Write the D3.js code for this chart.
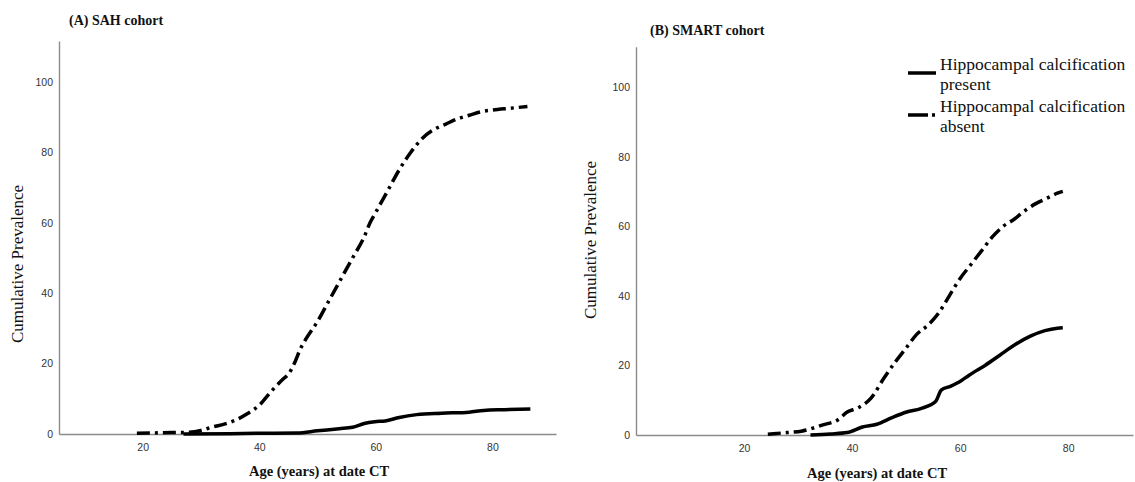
<!DOCTYPE html>
<html>
<head>
<meta charset="utf-8">
<script src="https://cdn.jsdelivr.net/npm/d3@7"></script>
<style>
  body { margin: 0; background: #fff; }
  svg { display: block; }
</style>
</head>
<body>
<div id="chart"></div>
<script>
// (A) SAH cohort
const sahAbsentAge = [19, 22, 25, 28, 30, 32, 34, 36, 38, 40, 42, 44, 45, 46, 47, 48, 50, 52, 54, 56, 58, 59, 60, 62, 64, 66, 68, 70, 72, 74, 76, 78, 80, 83, 86];
const sahAbsentVal = [0.2, 0.3, 0.4, 0.5, 1.0, 2.0, 2.8, 4.0, 5.8, 8.2, 12, 15.5, 17, 20, 24, 27, 32, 38, 44, 50, 56, 60, 63, 69, 75, 80, 84, 86.5, 88, 89.5, 90.5, 91.5, 92, 92.5, 93];
const sahPresentAge = [27, 35, 40, 46.5, 50, 53.7, 56, 58, 59.8, 61.6, 64, 67, 71.3, 76, 78.5, 82, 86.5];
const sahPresentVal = [0, 0.1, 0.2, 0.3, 0.9, 1.5, 1.9, 3.0, 3.5, 3.7, 4.7, 5.5, 5.9, 6.2, 6.7, 6.9, 7.1];

// (B) SMART cohort
const smartAbsentAge = [24.4, 27.9, 30.6, 34.6, 37.4, 39.1, 41.1, 43.5, 46, 48, 50, 52, 54, 56, 58, 60, 62, 64, 66, 68, 70, 72, 74, 76, 78, 79];
const smartAbsentVal = [0.2, 0.7, 1.1, 2.9, 4.4, 6.6, 7.8, 10.6, 16.6, 21, 25, 29, 31.5, 35, 40, 45, 49, 53, 57, 60, 62, 64.5, 66.5, 68, 69.5, 70];
const smartPresentAge = [32.3, 36, 39.1, 41.9, 44.6, 47.4, 50.1, 52.7, 55.5, 56.5, 58.2, 60.2, 61.6, 63, 64.6, 67.4, 70.2, 73, 75.7, 78, 79];
const smartPresentVal = [0, 0.3, 0.7, 2.3, 3.1, 5.0, 6.6, 7.6, 9.7, 12.9, 14, 15.6, 17.1, 18.5, 20, 23, 26, 28.4, 30, 30.7, 30.8];

const yTicks = [0, 20, 40, 60, 80, 100];
const xTicks = [20, 40, 60, 80];
const seriesNames = ["Hippocampal calcification present", "Hippocampal calcification absent"];

const width = 1135, height = 482;
const serif = "'Liberation Serif', 'Times New Roman', serif";
const sans = "'Liberation Sans', Arial, sans-serif";
const axisColor = "#8c8c8c";
const dashDot = "13,5,3,5";

const svg = d3.select("#chart").append("svg")
    .attr("width", width)
    .attr("height", height)
    .attr("viewBox", `0 0 ${width} ${height}`);

const panels = [
    {
        title: "(A) SAH cohort", titleX: 69, titleY: 25,
        xDomain: [5.64, 90.9], xRange: [59, 556],
        yRange: [434, 41],
        yLabelX: 17, yLabelY: 264,
        xLabelX: 319, xLabelY: 476,
        present: [sahPresentAge, sahPresentVal],
        absent: [sahAbsentAge, sahAbsentVal]
    },
    {
        title: "(B) SMART cohort", titleX: 650, titleY: 35,
        xDomain: [0, 92], xRange: [636, 1133],
        yRange: [435, 46.7],
        yLabelX: 590, yLabelY: 240,
        xLabelX: 877, xLabelY: 478,
        present: [smartPresentAge, smartPresentVal],
        absent: [smartAbsentAge, smartAbsentVal]
    }
];

panels.forEach(p => {
    const x = d3.scaleLinear().domain(p.xDomain).range(p.xRange);
    const y = d3.scaleLinear().domain([0, 111.6]).range(p.yRange);
    const g = svg.append("g");

    // Título
    g.append("text")
        .attr("x", p.titleX).attr("y", p.titleY)
        .attr("font-family", serif).attr("font-weight", "bold")
        .attr("font-size", 14).attr("fill", "#111")
        .text(p.title);

    // Eixos
    const xAxis = g.append("g")
        .attr("transform", `translate(0,${p.yRange[0]})`)
        .call(d3.axisBottom(x).tickValues(xTicks).tickSize(0).tickPadding(10));
    const yAxis = g.append("g")
        .attr("transform", `translate(${p.xRange[0]},0)`)
        .call(d3.axisLeft(y).tickValues(yTicks).tickSize(0).tickPadding(6));

    [xAxis, yAxis].forEach(a => {
        a.select(".domain").attr("stroke", axisColor).attr("stroke-width", 1.4);
        a.selectAll("text")
            .attr("font-family", sans).attr("font-size", 10.5).attr("fill", "#333");
    });

    // Rótulos dos eixos
    g.append("text")
        .attr("transform", `translate(${p.yLabelX},${p.yLabelY}) rotate(-90)`)
        .attr("text-anchor", "middle").attr("dominant-baseline", "central")
        .attr("font-family", serif).attr("font-size", 17).attr("fill", "#111")
        .text("Cumulative Prevalence");
    g.append("text")
        .attr("x", p.xLabelX).attr("y", p.xLabelY)
        .attr("text-anchor", "middle")
        .attr("font-family", serif).attr("font-weight", "bold")
        .attr("font-size", 14.5).attr("fill", "#111")
        .text("Age (years) at date CT");

    // Linhas
    const line = d3.line()
        .x(d => x(d[0]))
        .y(d => y(d[1]))
        .curve(d3.curveMonotoneX);

    const absentPts = p.absent[0].map((a, i) => [a, p.absent[1][i]]);
    const presentPts = p.present[0].map((a, i) => [a, p.present[1][i]]);

    g.append("path")
        .datum(absentPts)
        .attr("d", line)
        .attr("fill", "none").attr("stroke", "#000")
        .attr("stroke-width", 3.5)
        .attr("stroke-dasharray", dashDot);

    g.append("path")
        .datum(presentPts)
        .attr("d", line)
        .attr("fill", "none").attr("stroke", "#000")
        .attr("stroke-width", 3.5)
        .attr("stroke-linejoin", "round");
});

// Legenda (painel B)
const legend = svg.append("g");
const legendRows = [
    { y: 73, dash: null, lines: ["Hippocampal calcification", "present"], ty: 70 },
    { y: 115, dash: "20,4,3,40", lines: ["Hippocampal calcification", "absent"], ty: 112 }
];
legendRows.forEach((r, i) => {
    legend.append("line")
        .attr("x1", 908).attr("x2", 936)
        .attr("y1", r.y).attr("y2", r.y)
        .attr("stroke", "#000").attr("stroke-width", 3.5)
        .attr("stroke-dasharray", r.dash);
    r.lines.forEach((t, j) => {
        legend.append("text")
            .attr("x", 940).attr("y", r.ty + j * 20)
            .attr("font-family", serif).attr("font-size", 17.5).attr("fill", "#111")
            .text(j === 0 ? seriesNames[i].replace(/ (present|absent)$/, "") : t);
    });
});
</script>
</body>
</html>
